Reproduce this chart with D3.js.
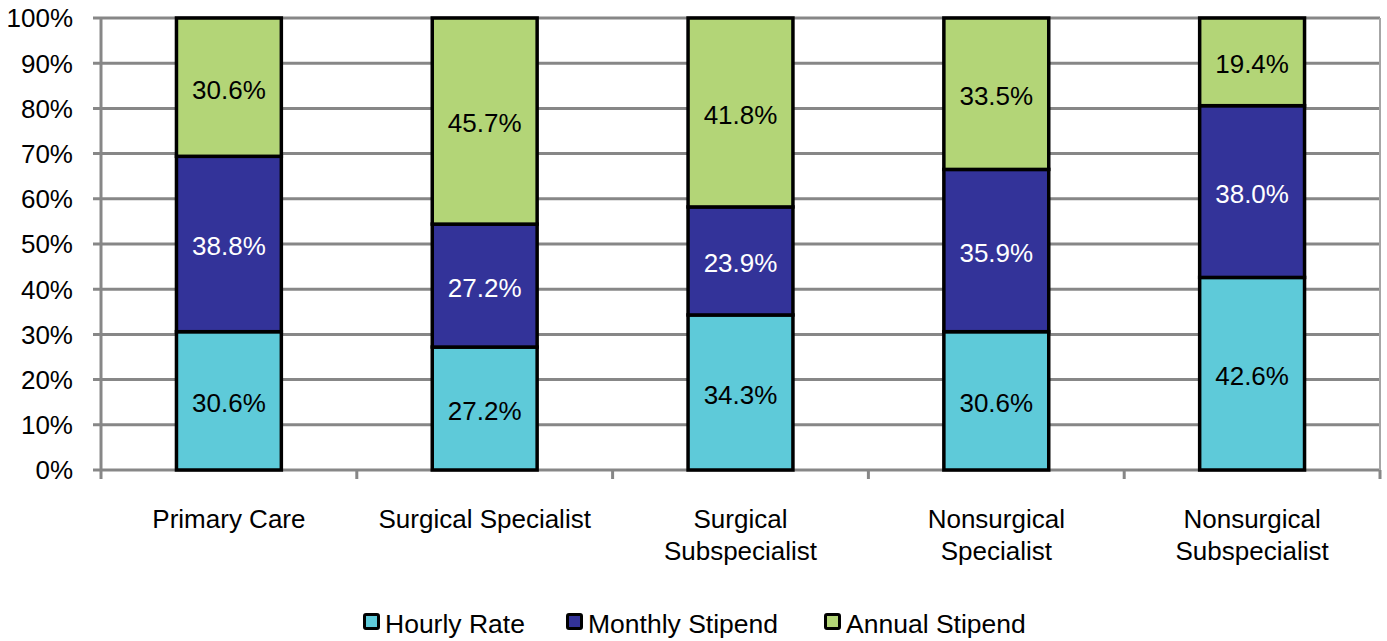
<!DOCTYPE html>
<html>
<head>
<meta charset="utf-8">
<script src="https://cdn.jsdelivr.net/npm/d3@7"></script>
<style>
  body { margin: 0; background: #fff; }
  text { font-family: "Liberation Sans", Arial, sans-serif; }
</style>
</head>
<body>
<div class="graph"></div>
<script>
// values
const categories = [["Primary Care"], ["Surgical Specialist"], ["Surgical", "Subspecialist"], ["Nonsurgical", "Specialist"], ["Nonsurgical", "Subspecialist"]];
const seriesNames = ["Hourly Rate", "Monthly Stipend", "Annual Stipend"];
const hourly = [30.6, 27.2, 34.3, 30.6, 42.6];
const monthly = [38.8, 27.2, 23.9, 35.9, 38.0];
const annual = [30.6, 45.7, 41.8, 33.5, 19.4];
const yTicks = [0, 10, 20, 30, 40, 50, 60, 70, 80, 90, 100];

const colors = ["#5ECAD9", "#333399", "#B3D577"];
const labelColors = ["#000", "#fff", "#000"];

const W = 1387, H = 641;
const plotL = 101, plotR = 1380, plotT = 18, plotB = 470;
const fs = 26;

const svg = d3.select(".graph").append("svg").attr("width", W).attr("height", H);

const rows = categories.map((c, i) => ({ key: i, h: hourly[i], m: monthly[i], a: annual[i] }));
const stack = d3.stack().keys(["h", "m", "a"]);
const layers = stack(rows);

const x = d3.scaleBand().domain(d3.range(categories.length)).range([plotL, plotR]).paddingInner(0.59).paddingOuter(0.295);
const y = d3.scaleLinear().domain([0, 100]).range([plotB, plotT]).clamp(true);

// gridlines
svg.append("g").selectAll("line").data(yTicks).join("line")
  .attr("x1", plotL - 8).attr("x2", plotR)
  .attr("y1", d => y(d)).attr("y2", d => y(d))
  .attr("stroke", "#878787").attr("stroke-width", 3);

// right border
svg.append("line").attr("x1", plotR).attr("x2", plotR).attr("y1", plotT).attr("y2", plotB)
  .attr("stroke", "#a6a6a6").attr("stroke-width", 2);

// y axis line
svg.append("line").attr("x1", plotL).attr("x2", plotL).attr("y1", plotT - 1).attr("y2", plotB + 9)
  .attr("stroke", "#878787").attr("stroke-width", 3);

// x ticks at category boundaries
const bounds = d3.range(categories.length + 1).map(i => plotL + i * (plotR - plotL) / categories.length);
svg.append("g").selectAll("line").data(bounds.slice(1)).join("line")
  .attr("x1", d => d).attr("x2", d => d).attr("y1", plotB).attr("y2", plotB + 9)
  .attr("stroke", "#878787").attr("stroke-width", 3);

// y labels
svg.append("g").selectAll("text").data(yTicks).join("text")
  .attr("x", 73).attr("y", d => y(d)).attr("dy", "0.36em")
  .attr("text-anchor", "end").attr("font-size", fs).attr("fill", "#000")
  .text(d => d + "%");

// bars
layers.forEach((layer, si) => {
  const g = svg.append("g");
  g.selectAll("rect").data(layer).join("rect")
    .attr("x", (d, i) => x(i)).attr("width", x.bandwidth())
    .attr("y", d => y(d[1])).attr("height", d => y(d[0]) - y(d[1]))
    .attr("fill", colors[si]).attr("stroke", "#000").attr("stroke-width", 3.5);
});
layers.forEach((layer, si) => {
  svg.append("g").selectAll("text").data(layer).join("text")
    .attr("x", (d, i) => x(i) + x.bandwidth() / 2)
    .attr("y", d => (y(d[0]) + y(d[1])) / 2 + 2).attr("dy", "0.36em")
    .attr("text-anchor", "middle").attr("font-size", fs)
    .attr("fill", labelColors[si])
    .text(d => (d[1] - d[0]).toFixed(1) + "%");
});

// category labels
const catG = svg.append("g").selectAll("text").data(categories).join("text")
  .attr("x", (d, i) => x(i) + x.bandwidth() / 2)
  .attr("y", 528).attr("text-anchor", "middle").attr("font-size", fs).attr("fill", "#000");
catG.selectAll("tspan").data(d => d).join("tspan")
  .attr("x", function () { return d3.select(this.parentNode).attr("x"); })
  .attr("dy", (d, j) => j === 0 ? 0 : 32)
  .text(d => d);

// legend
const legX = [363, 566, 824];
const leg = svg.append("g").selectAll("g").data(seriesNames).join("g")
  .attr("transform", (d, i) => `translate(${legX[i]},613)`);
leg.append("rect").attr("x", 1.5).attr("y", 1.5).attr("width", 14).attr("height", 14)
  .attr("fill", (d, i) => colors[i]).attr("stroke", "#000").attr("stroke-width", 3).attr("rx", 1.5);
leg.append("text").attr("x", 22).attr("y", 20)
  .attr("font-size", 26.5).attr("fill", "#000").text(d => d);
</script>
</body>
</html>
